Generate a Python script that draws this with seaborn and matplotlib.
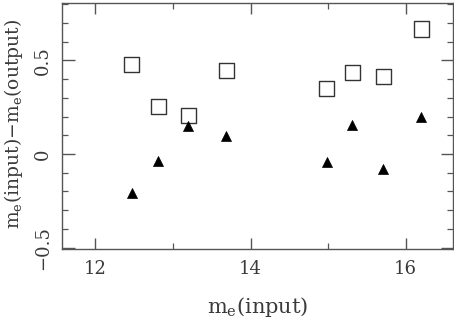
import matplotlib
matplotlib.use("Agg")
import matplotlib.pyplot as plt
import seaborn as sns
import pandas as pd
from matplotlib.ticker import MultipleLocator

# data
x_input = [12.47, 12.81, 13.20, 13.69, 14.98, 15.31, 15.71, 16.20]
diff_squares = [0.480, 0.253, 0.204, 0.447, 0.352, 0.434, 0.415, 0.667]
diff_triangles = [-0.210, -0.039, 0.149, 0.095, -0.044, 0.155, -0.078, 0.196]
x_ticks = [12, 14, 16]
y_ticks = [-0.5, 0, 0.5]
y_ticklabels = ["\u22120.5", "0", "0.5"]

sns.set_style("ticks")
plt.rcParams["font.family"] = ["DejaVu Serif"]
plt.rcParams["mathtext.fontset"] = "dejavuserif"

df_sq = pd.DataFrame({"x": x_input, "y": diff_squares})
df_tr = pd.DataFrame({"x": x_input, "y": diff_triangles})

fig = plt.figure(figsize=(4.54, 3.25), dpi=100)
ax = fig.add_axes([0.1366, 0.2338, 0.8612, 0.757])

frame = "#555555"
txt = "#3a3a3a"

sns.scatterplot(data=df_sq, x="x", y="y", marker="s", s=118,
                facecolor="none", edgecolor="#333333", linewidth=1.0, ax=ax)
sns.scatterplot(data=df_tr, x="x", y="y", marker="^", s=52,
                color="black", edgecolor="black", linewidth=0.5, ax=ax)

ax.set_xlim(11.57, 16.61)
ax.set_ylim(-0.507, 0.806)
ax.set_xticks(x_ticks)
ax.set_xticklabels([str(t) for t in x_ticks])
ax.xaxis.set_minor_locator(MultipleLocator(1))
ax.set_yticks(y_ticks)
ax.set_yticklabels(y_ticklabels, rotation=90, va="center")
ax.yaxis.set_minor_locator(MultipleLocator(0.1))

ax.tick_params(which="both", direction="in", top=True, right=True, color=frame)
ax.tick_params(which="major", length=8, width=1.0, labelsize=13, labelcolor=txt, pad=8)
ax.tick_params(which="minor", length=4, width=0.9)
ax.tick_params(axis="y", which="major", length=9, pad=7)
for sp in ax.spines.values():
    sp.set_color(frame)
    sp.set_linewidth(1.0)

ax.set_xlabel(r"m$_\mathrm{e}$(input)", fontsize=15, color=txt, labelpad=12)
ax.set_ylabel(r"m$_\mathrm{e}$(input)$-$m$_\mathrm{e}$(output)", fontsize=13.5, color=txt)
ax.yaxis.set_label_coords(-0.094, 0.51)

fig.savefig("out.png", dpi=100)
